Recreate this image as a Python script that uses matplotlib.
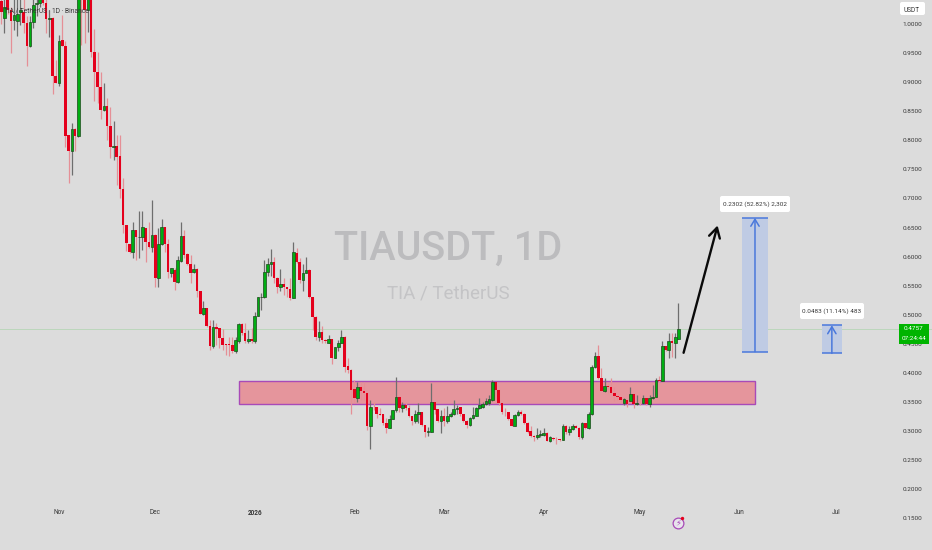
import matplotlib
matplotlib.use('Agg')
import matplotlib.pyplot as plt
import matplotlib.dates as mdates
from matplotlib.patches import Rectangle, FancyBboxPatch
from matplotlib.transforms import IdentityTransform
import numpy as np
import pandas as pd

plt.rcParams['font.family'] = ['Roboto', 'DejaVu Sans']

# daily TIAUSDT candles, 14 Oct 2025 onwards
opens = [
    1.04, 1.01, 1.041, 1.024, 1.007, 1.006, 1.020, 1.021, 1.002, .963,
    1.004, 1.034, 1.037, 1.05, 1.037, 1.008, 1.010, .911, .899, .972,
    .963, .809, .782, .819, .808, 1.12, 1.06, 1.024, 1.06, .952,
    .918, .891, .852, .859, .824, .788, .791, .773, .716, .655,
    .622, .608, .645, .633, .633, .649, .625, .617, .637, .564,
    .622, .650, .622, .572, .577, .556, .592, .635, .605, .587,
    .574, .579, .541, .502, .511, .481, .446, .478, .477, .460,
    .449, .450, .448, .437, .454, .484, .469, .454, .458, .454,
    .498, .530, .530, .573, .588, .590, .564, .547, .553, .547,
    .545, .529, .607, .590, .559, .572, .577, .530, .496, .461,
    .471, .457, .452, .458, .426, .444, .452, .462, .411, .405,
    .372, .356, .376, .368, .365, .308, .342, .341, .330, .329,
    .314, .306, .321, .336, .359, .339, .345, .340, .326, .318,
    .330, .332, .311, .299, .299, .350, .337, .318, .326, .318,
    .325, .329, .337, .341, .329, .318, .310, .322, .326, .340,
    .341, .347, .348, .353, .384, .371, .349, .333, .333, .320,
    .309, .328, .332, .330, .314, .300, .292, .289, .293, .293,
    .297, .283, .288, .287, .286, .285, .309, .298, .303, .308,
    .306, .289, .314, .305, .329, .410, .429, .391, .368, .377,
    .376, .366, .361, .358, .349, .353, .352, .363, .346, .349,
    .348, .356, .346, .356, .359, .388, .386, .446, .439, .454,
    .451, .459,
]
highs = [
    1.06, 1.06, 1.06, 1.030, 1.05, 1.05, 1.05, 1.05, 1.013, 1.013,
    1.05, 1.05, 1.06, 1.06, 1.06, 1.024, 1.012, .938, .981, 1.016,
    .970, .809, .829, .821, 1.10, 1.13, 1.07, 1.08, 1.07, .991,
    .952, .918, .898, .872, .858, .834, .809, .809, .735, .655,
    .622, .660, .646, .679, .679, .650, .660, .698, .638, .650,
    .665, .651, .631, .581, .58, .601, .659, .646, .606, .603,
    .588, .580, .541, .524, .511, .491, .491, .485, .478, .476,
    .45, .462, .462, .462, .485, .485, .485, .474, .478, .505,
    .530, .537, .594, .597, .613, .600, .565, .579, .563, .548,
    .563, .625, .614, .597, .588, .599, .578, .531, .497, .490,
    .480, .459, .465, .459, .445, .457, .473, .463, .425, .406,
    .388, .385, .385, .385, .366, .353, .350, .342, .339, .330,
    .322, .328, .336, .393, .360, .350, .350, .345, .326, .336,
    .349, .332, .311, .307, .382, .350, .338, .336, .339, .343,
    .333, .353, .345, .342, .329, .319, .324, .341, .342, .356,
    .350, .356, .362, .387, .385, .372, .349, .340, .333, .321,
    .330, .336, .336, .331, .316, .308, .293, .305, .302, .305,
    .298, .291, .289, .289, .287, .312, .310, .308, .312, .310,
    .307, .316, .314, .333, .414, .436, .448, .408, .391, .382,
    .391, .376, .362, .359, .356, .354, .375, .365, .362, .359,
    .362, .357, .362, .379, .392, .395, .455, .447, .469, .469,
    .469, .521,
]
lows = [
    1.00, .985, 1.018, .951, .990, .979, .998, .984, .927, .961,
    .993, 1.013, 1.030, 1.033, .985, .978, .880, .898, .894, .962,
    .789, .726, .741, .782, .806, .964, .968, .987, .944, .867,
    .864, .836, .851, .801, .769, .766, .723, .700, .640, .610,
    .606, .597, .594, .597, .612, .591, .614, .608, .547, .548,
    .620, .608, .563, .565, .543, .554, .591, .597, .586, .554,
    .571, .530, .501, .500, .479, .439, .442, .448, .442, .439,
    .431, .429, .434, .435, .451, .465, .451, .451, .451, .451,
    .497, .508, .528, .566, .566, .554, .537, .540, .534, .531,
    .525, .528, .589, .554, .540, .571, .529, .473, .457, .454,
    .452, .451, .451, .415, .425, .437, .451, .402, .399, .330,
    .349, .350, .353, .353, .302, .269, .336, .322, .327, .310,
    .296, .305, .320, .333, .333, .332, .336, .324, .310, .313,
    .313, .309, .290, .291, .298, .330, .316, .297, .308, .314,
    .324, .328, .329, .326, .316, .306, .309, .320, .325, .338,
    .339, .345, .345, .352, .355, .345, .330, .326, .319, .308,
    .308, .325, .328, .312, .296, .290, .282, .287, .290, .292,
    .282, .281, .285, .278, .282, .284, .295, .293, .302, .305,
    .287, .287, .303, .303, .328, .408, .390, .368, .367, .365,
    .364, .352, .353, .348, .345, .342, .351, .339, .345, .345,
    .346, .345, .342, .355, .358, .385, .386, .438, .425, .428,
    .425, .458,
]
closes = [
    1.02, 1.03, 1.024, 1.006, 1.016, 1.018, 1.024, 1.001, .963, 1.003,
    1.033, 1.037, 1.05, 1.037, 1.008, 1.010, .911, .899, .971, .963,
    .808, .782, .819, .808, 1.09, 1.06, 1.024, 1.06, .952, .918,
    .891, .852, .859, .824, .788, .791, .772, .716, .655, .623,
    .608, .646, .633, .6335, .650, .625, .617, .637, .564, .622,
    .650, .622, .574, .580, .556, .594, .635, .603, .587, .572,
    .579, .541, .502, .511, .480, .446, .478, .476, .460, .448,
    .448, .448, .437, .456, .484, .469, .454, .458, .454, .498,
    .530, .531, .573, .588, .590, .564, .547, .553, .547, .545,
    .529, .607, .590, .559, .572, .577, .530, .496, .461, .471,
    .457, .455, .458, .426, .444, .452, .462, .410, .405, .371,
    .356, .376, .368, .365, .308, .342, .341, .330, .328, .314,
    .305, .321, .336, .359, .339, .345, .340, .325, .318, .330,
    .332, .310, .298, .300, .350, .336, .318, .326, .318, .325,
    .329, .337, .340, .329, .318, .310, .322, .328, .340, .345,
    .347, .352, .355, .384, .371, .348, .333, .3325, .320, .309,
    .328, .332, .330, .314, .299, .292, .289, .293, .294, .296,
    .283, .289, .287, .286, .285, .309, .298, .303, .308, .306,
    .289, .314, .305, .330, .410, .429, .391, .369, .377, .376,
    .365, .361, .358, .353, .355, .347, .363, .346, .349, .348,
    .356, .346, .356, .359, .387, .386, .446, .439, .454, .452,
    .461, .4757,
]

y_ticks = [1.0, .95, .9, .85, .8, .75, .7, .65, .6, .55, .5, .45, .4, .35, .3, .25, .2, .15]
x_tick_dates = ['2025-11-01', '2025-12-01', '2026-01-01', '2026-02-01', '2026-03-01',
                '2026-04-01', '2026-05-01', '2026-06-01', '2026-07-01']
x_tick_labels = ['Nov', 'Dec', '2026', 'Feb', 'Mar', 'Apr', 'May', 'Jun', 'Jul']

last_price = 0.4757
countdown = '07:24:44'
zone_low, zone_high = 0.346, 0.386
big_low, big_high = 0.4365, 0.6667
small_low, small_high = 0.4335, 0.4818

BG = '#DCDCDC'
GREEN = '#00AE12'
RED = '#E4001C'
TEXT = '#383838'

dates = pd.date_range('2025-10-14', periods=len(opens), freq='D')
x = mdates.date2num(dates)
o, h, l, c = map(np.array, (opens, highs, lows, closes))
up = c >= o
t0 = mdates.date2num(pd.Timestamp('2025-11-01'))


def day(n):
    return t0 + n


def px(xp, yp):
    # picture pixels (y down) to axes fraction
    return xp / 932, 1 - yp / 550


def white_box(x0, y0, x1, y1):
    box = FancyBboxPatch((x0, 550 - y1), x1 - x0, y1 - y0, boxstyle='round,pad=0,rounding_size=2',
                         fc='white', ec='none', transform=IdentityTransform(), zorder=7)
    ax.add_patch(box)


fig = plt.figure(figsize=(9.32, 5.5), dpi=100, facecolor=BG)
ax = fig.add_axes([0, 0, 1, 1], facecolor=BG)
ax.set_xlim(day(-18.38), day(272))
ax.set_ylim(0.0953, 1.0413)
for s in ax.spines.values():
    s.set_visible(False)

# watermark
ax.text(*px(448.5, 249), 'TIAUSDT, 1D', transform=ax.transAxes, fontsize=28.5, color='#BCBCBE',
        fontweight='medium', ha='center', va='center', zorder=1)
ax.text(*px(448.5, 293), 'TIA / TetherUS', transform=ax.transAxes, fontsize=13.5, color='#C4C4C6',
        ha='center', va='center', zorder=1)

ax.axhline(last_price, color='#BBD6BB', lw=0.7, zorder=1.5)

# support zone
ax.add_patch(Rectangle((day(56.1), zone_low), 160.7, zone_high - zone_low, fc='#E5959C',
                       ec='#A84AB8', lw=1.0, zorder=2))

# candles
ax.vlines(x[~up], l[~up], h[~up], color='#E58F96', lw=0.9, zorder=3)
ax.vlines(x[up], l[up], h[up], color='#6E6E6E', lw=0.9, zorder=3)
ax.bar(x[~up], (o - c)[~up], bottom=c[~up], width=0.82, color=RED, lw=0, zorder=4)
ax.bar(x[up], np.maximum((c - o)[up], 0.001), bottom=o[up], width=0.82, color=GREEN,
       edgecolor='#1C4A1C', lw=0.5, zorder=4)

# measure boxes
for left, width, lo, hi in [(212.8, 8.1, big_low, big_high), (237.7, 6.2, small_low, small_high)]:
    ax.add_patch(Rectangle((day(left), lo), width, hi - lo, fc='#BFCBE4', ec='none', zorder=2))
    ax.hlines([lo, hi], day(left), day(left + width), color='#4A78DC', lw=1.1, zorder=3)
    ax.annotate('', xy=(day(left + width / 2), hi), xytext=(day(left + width / 2), lo),
                arrowprops=dict(arrowstyle='->,head_length=0.5,head_width=0.3', color='#4A78DC',
                                lw=1.1, shrinkA=0, shrinkB=0), zorder=5)

white_box(720, 196, 790, 212)
ax.text(*px(755, 204), '0.2302 (52.82%) 2,302', transform=ax.transAxes, fontsize=4.6, color=TEXT,
        ha='center', va='center', zorder=8)
white_box(800, 303, 864, 319)
ax.text(*px(832, 311), '0.0483 (11.14%) 483', transform=ax.transAxes, fontsize=4.6, color=TEXT,
        ha='center', va='center', zorder=8)

# forecast arrow
ax.annotate('', xy=(day(205.2), 0.6535), xytext=(day(194.6), 0.4345),
            arrowprops=dict(arrowstyle='->,head_length=0.7,head_width=0.4', color='#0A0A0A', lw=1.7,
                            shrinkA=0, shrinkB=0), zorder=6)

# price axis and time axis, labels sit inside the full-bleed axes
ax.yaxis.tick_right()
ax.set_yticks(y_ticks, [f'{v:.4f}' for v in y_ticks])
ax.set_xticks([mdates.date2num(pd.Timestamp(d)) for d in x_tick_dates], x_tick_labels)
ax.tick_params(axis='y', length=0, pad=-21, labelsize=4.6, labelcolor=TEXT)
ax.tick_params(axis='x', length=0, pad=-29.8, labelsize=4.7, labelcolor=TEXT)
ax.get_xticklabels()[2].set_fontweight('bold')

ax.text(*px(4, 11), 'TIA / TetherUS · 1D · Binance', transform=ax.transAxes, fontsize=4.8,
        color=TEXT, va='center', zorder=8)

white_box(900, 2, 925, 15)
ax.text(*px(912, 10), 'USDT', transform=ax.transAxes, fontsize=4.7, color=TEXT,
        ha='center', va='center', zorder=8)

# last price tag
ax.add_patch(Rectangle(px(899, 343.5), 30 / 932, 19.5 / 550, transform=ax.transAxes,
                       fc='#00B400', ec='none', zorder=8))
ax.text(*px(914, 329), f'{last_price:.4f}', transform=ax.transAxes, fontsize=4.6, color='white',
        ha='center', va='center', zorder=9)
ax.text(*px(914, 338.5), countdown, transform=ax.transAxes, fontsize=4.6, color='white',
        ha='center', va='center', zorder=9)

# alert icon under the last candle
ax.scatter(*px(678, 523), s=60, transform=ax.transAxes, fc='#E8E4EC', ec='#A84AB8', lw=0.9, zorder=8)
ax.text(*px(678, 523), '\u26a1', transform=ax.transAxes, fontsize=6, color='#A84AB8',
        family=['DejaVu Sans'], ha='center', va='center', zorder=9)
ax.scatter(*px(682, 518), s=6, transform=ax.transAxes, color='#E4001C', lw=0, zorder=9)

fig.savefig('out.png', dpi=100, facecolor=BG)
plt.close()
